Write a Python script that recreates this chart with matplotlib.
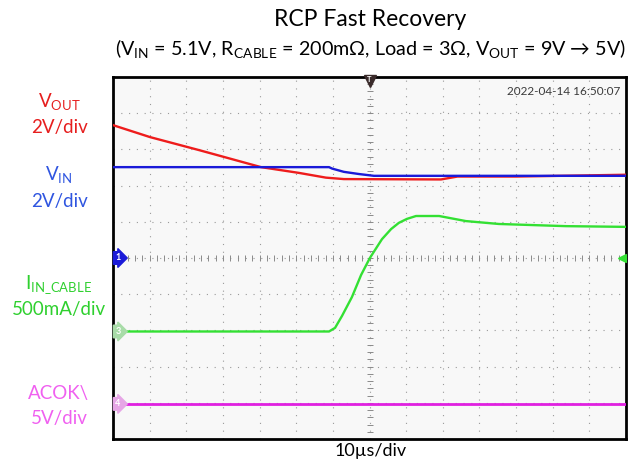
import matplotlib
matplotlib.use("Agg")
import matplotlib.pyplot as plt

plt.rcParams['font.family'] = ['Lato', 'DejaVu Sans']
plt.rcParams['mathtext.fontset'] = 'custom'
plt.rcParams['mathtext.rm'] = 'Lato'

# time in us (10us/div, 14 div), values in screen divisions (0..10)
vout_t = [-70, -59.9, -46.5, -37.5, -29.6, -19.2, -11.9, -7.0, 19.5, 24, 40, 70]
vout_y = [8.67, 8.34, 7.98, 7.73, 7.51, 7.35, 7.22, 7.18, 7.17, 7.25, 7.25, 7.30]

vin_t = [-70, -11.05, -10.2, -7.0, -2.9, 1.2, 70]
vin_y = [7.51, 7.51, 7.47, 7.38, 7.32, 7.27, 7.27]

iin_t = [-70, -11.05, -9.4, -7.5, -4.8, -2.3, 0.1, 3.4, 5.9, 8.0, 10.2, 12.7,
         19.0, 26.3, 35.3, 44.4, 53.6, 70]
iin_y = [2.97, 2.97, 3.07, 3.40, 3.92, 4.53, 5.0, 5.52, 5.80, 5.97, 6.08, 6.16,
         6.16, 6.02, 5.94, 5.91, 5.88, 5.86]

acok_t = [-70, 70]
acok_y = [0.97, 0.97]

# channel offset markers (divisions)
ch_labels = ['1', '3', '4']
ch_levels = [5.0, 2.97, 0.97]
ch_colors = ['#1a1ad8', '#a8dca8', '#e6a6e6']

fig = plt.figure(figsize=(6.29, 4.61), dpi=100)
ax = fig.add_axes([113 / 629, 1 - 439 / 461, 513 / 629, 362 / 461])
ax.set_facecolor('#f8f8f8')
ax.set_xlim(-70, 70)
ax.set_ylim(0, 10)
ax.set_xticks([])
ax.set_yticks([])
for s in ax.spines.values():
    s.set_linewidth(2)
    s.set_color('black')

# dotted grid
for gx in range(-60, 70, 10):
    ax.axvline(gx, color='#9a9a9a', lw=0.8, ls=(0, (1, 6)), zorder=1)
for gy in range(1, 10):
    ax.axhline(gy, color='#9a9a9a', lw=0.8, ls=(0, (1, 6)), zorder=1)
# minor ticks on center lines
mx = [i * 2 - 70 for i in range(71)]
my = [i * 0.2 for i in range(51)]
ax.plot(mx, [5] * len(mx), ls='none', marker='|', ms=4, color='#8a8a8a', mew=0.7, zorder=1)
ax.plot([0] * len(my), my, ls='none', marker='_', ms=4, color='#8a8a8a', mew=0.7, zorder=1)

ax.plot(acok_t, acok_y, color='#e020e0', lw=2, zorder=3)
ax.plot(iin_t, iin_y, color='#33e033', lw=1.7, zorder=3)
ax.plot(vout_t, vout_y, color='#ee1c1c', lw=1.7, zorder=3)
ax.plot(vin_t, vin_y, color='#1a1ad8', lw=1.7, zorder=4)

# channel markers on the left edge
for lab, lev, col in zip(ch_labels, ch_levels, ch_colors):
    ax.text(-69.4, lev, lab, color='white', fontsize=6.5, fontweight='bold',
            va='center', ha='left', zorder=5,
            bbox=dict(boxstyle='rarrow,pad=0.2', fc=col, ec=col))

# trigger markers
ax.plot(0, 9.88, marker='v', ms=9, color='#3a2b2b', zorder=5, clip_on=False)
ax.text(0, 9.93, 'T', color='white', fontsize=5.5, fontweight='bold', ha='center', va='center',
        zorder=6)
ax.plot(68.8, 5.0, marker='<', ms=6, color='#33e033', zorder=5)

ax.text(0.99, 0.975, '2022-04-14 16:50:07', transform=ax.transAxes, ha='right', va='top',
        fontsize=8.5, color='#3a3a3a')

fig.text(370 / 629, 1 - 20 / 461, 'RCP Fast Recovery', ha='center', va='center', fontsize=16.5)
fig.text(370 / 629, 1 - 49 / 461,
         r'(V$_\mathregular{IN}$ = 5.1V, R$_\mathregular{CABLE}$ = 200mΩ, Load = 3Ω, '
         r'V$_\mathregular{OUT}$ = 9V → 5V)',
         ha='center', va='center', fontsize=14.2)
fig.text(371 / 629, 1 - 451 / 461, '10µs/div', ha='center', va='center', fontsize=13)

left_labels = [
    (r'V$_\mathregular{OUT}$', '2V/div', 102, 128, '#e61e1e'),
    (r'V$_\mathregular{IN}$', '2V/div', 175, 201, '#2f55e0'),
    (r'I$_\mathregular{IN\_CABLE}$', '500mA/div', 285, 309, '#2fd02f'),
    ('ACOK\\', '5V/div', 393, 418, '#f060f0'),
]
for name, scale, y1, y2, col in left_labels:
    fig.text(59 / 629, 1 - y1 / 461, name, ha='center', va='center', fontsize=13.5, color=col)
    fig.text(59 / 629, 1 - y2 / 461, scale, ha='center', va='center', fontsize=13.5, color=col)

fig.savefig('out.png', dpi=100)
